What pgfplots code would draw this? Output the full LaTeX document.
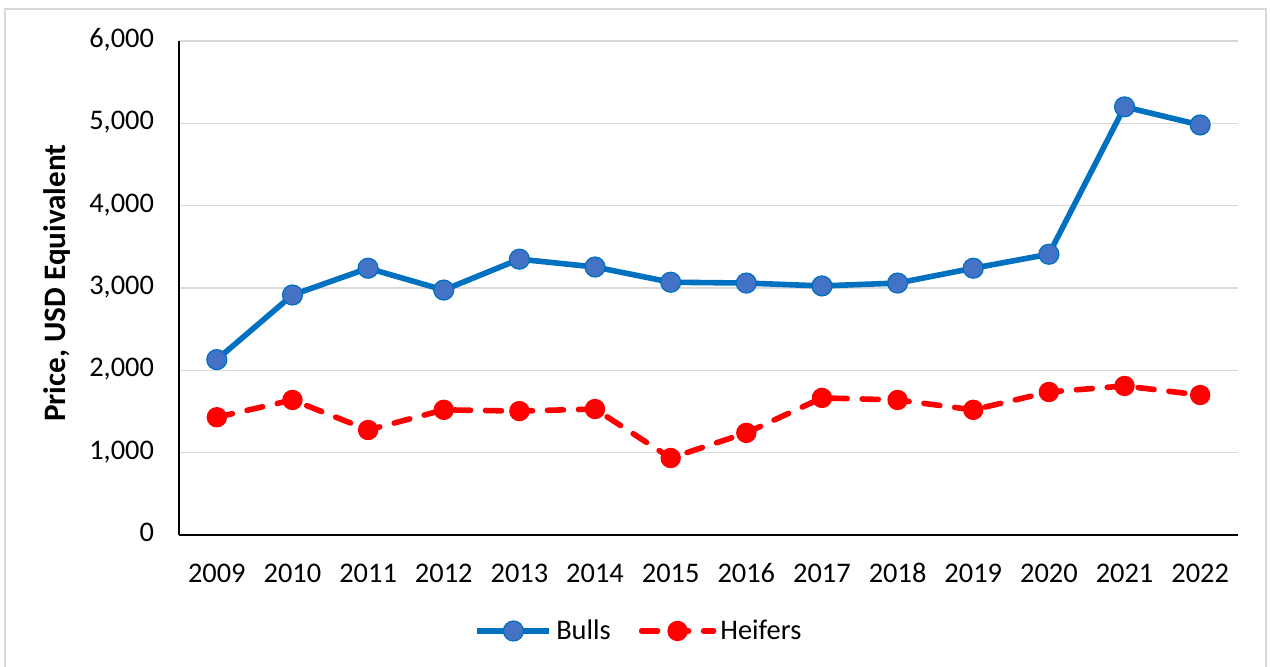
\documentclass[border=0pt]{standalone}
\usepackage{pgfplots}
\pgfplotsset{compat=1.18}
\usepackage{fontspec}
\setmainfont{Carlito}
\definecolor{bullline}{HTML}{0070C0}
\definecolor{bullfill}{HTML}{4472C4}
\definecolor{gridc}{HTML}{D9D9D9}
\begin{document}
\begin{tikzpicture}[x=1pt,y=1pt]
\path[use as bounding box] (0,0) rectangle (635.5,333.5);
\draw[gridc, line width=1pt] (2.5,0) -- (2.5,329) -- (633,329) -- (633,0);
\begin{axis}[
  at={(89.5pt,66pt)}, anchor=south west,
  scale only axis, width=529.5pt, height=247pt,
  xmin=-0.5, xmax=13.5, ymin=0, ymax=6000,
  xtick={0,...,13},
  xticklabels={2009,2010,2011,2012,2013,2014,2015,2016,2017,2018,2019,2020,2021,2022},
  ytick={0,1000,...,6000},
  /pgf/number format/assume math mode=true,
  /pgf/number format/1000 sep={,},
  scaled y ticks=false,
  tick style={draw=none},
  ymajorgrids, grid style={gridc, line width=0.75pt},
  axis x line*=bottom, axis y line*=left,
  axis line style={black, line width=0.6pt, -},
  tick label style={font=\fontsize{14.2}{16}\selectfont, black},
  typeset ticklabels with strut,
  yticklabel style={xshift=-9pt},
  xticklabel style={yshift=-9pt},
  ylabel={Price, USD Equivalent},
  every axis y label/.style={at={(axis description cs:-0.115,0.51)}, rotate=90, anchor=center,
    font=\bfseries\fontsize{15.6}{18}\selectfont},
  legend style={at={(axis description cs:0.4353,-0.1943)}, anchor=center, draw=none,
    legend columns=2, font=\fontsize{14.2}{16}\selectfont,
    /tikz/every even column/.append style={column sep=12pt}},
  legend image code/.code={\draw[mark repeat=2,mark phase=2] plot coordinates {(0pt,0pt) (18pt,0pt) (36pt,0pt)};},
]
\addplot[bullline, line width=2.8pt, mark=*, mark size=5pt,
  mark options={solid, fill=bullfill, draw=bullline, line width=0.6pt}]
  coordinates {(0,2130) (1,2915) (2,3240) (3,2975) (4,3350) (5,3255) (6,3070) (7,3060) (8,3025) (9,3060) (10,3240) (11,3410) (12,5200) (13,4980)};
\addlegendentry{Bulls}
\addplot[red, line width=2.8pt, line cap=round, dash pattern=on 8pt off 7.5pt, mark=*, mark size=4.8pt,
  mark options={solid, fill=red, draw=red, line width=0.6pt}]
  coordinates {(0,1430) (1,1640) (2,1275) (3,1520) (4,1505) (5,1530) (6,935) (7,1240) (8,1665) (9,1640) (10,1520) (11,1737) (12,1810) (13,1700)};
\addlegendentry{Heifers}
\end{axis}
\end{tikzpicture}
\end{document}
